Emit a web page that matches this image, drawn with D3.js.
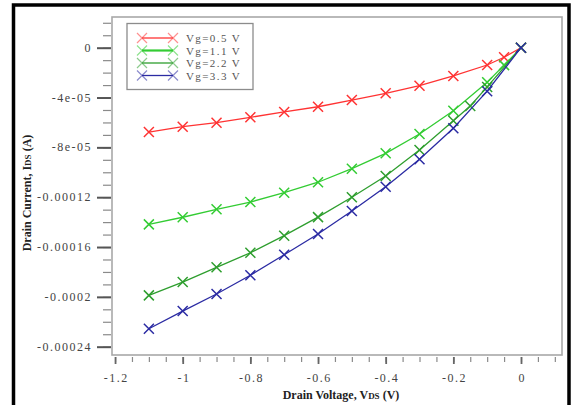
<!DOCTYPE html>
<html>
<head>
<meta charset="utf-8">
<script src="https://cdn.jsdelivr.net/npm/d3@7"></script>
<style>
  html, body { margin: 0; padding: 0; background: #fff; }
  svg { display: block; }
  .tick-label { font-family: "Liberation Serif", "DejaVu Serif", serif; font-size: 12px; fill: #444; letter-spacing: 1.5px; }
  .legend-label { font-family: "Liberation Serif", "DejaVu Serif", serif; font-size: 11px; fill: #555; letter-spacing: 1.4px; }
  .axis-title { font-family: "Liberation Serif", "DejaVu Serif", serif; font-size: 12px; font-weight: bold; fill: #222; }
</style>
</head>
<body>
<svg id="chart" width="576" height="405"></svg>
<script>
// Drain voltage sweep points (V) and drain currents (A) per gate voltage
const vds05 = [-1.1, -1, -0.9, -0.8, -0.7, -0.6, -0.5, -0.4, -0.3, -0.2, -0.1, -0.05, 0];
const ids05 = [-6.77e-5, -6.34e-5, -6.02e-5, -5.59e-5, -5.16e-5, -4.74e-5, -4.2e-5, -3.66e-5, -3.05e-5, -2.27e-5, -1.39e-5, -7.7e-6, 0];

const vds11 = [-1.1, -1, -0.9, -0.8, -0.7, -0.6, -0.5, -0.4, -0.3, -0.2, -0.1, -0.05, 0];
const ids11 = [-1.418e-4, -1.361e-4, -1.297e-4, -1.239e-4, -1.164e-4, -1.08e-4, -9.71e-5, -8.48e-5, -6.93e-5, -5.06e-5, -2.78e-5, -1.4e-5, 0];

const vds22 = [-1.1, -1, -0.9, -0.8, -0.7, -0.6, -0.5, -0.4, -0.3, -0.2, -0.15, -0.1, 0];
const ids22 = [-1.988e-4, -1.881e-4, -1.763e-4, -1.646e-4, -1.509e-4, -1.36e-4, -1.201e-4, -1.03e-4, -8.21e-5, -5.86e-5, -4.68e-5, -3.15e-5, 0];

const vds33 = [-1.1, -1, -0.9, -0.8, -0.7, -0.6, -0.5, -0.4, -0.3, -0.2, -0.1, 0];
const ids33 = [-2.256e-4, -2.114e-4, -1.977e-4, -1.827e-4, -1.662e-4, -1.496e-4, -1.311e-4, -1.116e-4, -8.96e-5, -6.47e-5, -3.49e-5, 0];

const seriesNames = ["Vg=0.5 V", "Vg=1.1 V", "Vg=2.2 V", "Vg=3.3 V"];
const seriesColors = ["#ff3333", "#33cc33", "#2e9e2e", "#2b2ba3"];
const legendWidths = [1.3, 2.2, 1.3, 1.3];

const xMajorTicks = [-1.2, -1, -0.8, -0.6, -0.4, -0.2, 0];
const xTickLabels = ["-1.2", "-1", "-0.8", "-0.6", "-0.4", "-0.2", "0"];
const yMajorTicks = [0, -4e-5, -8e-5, -1.2e-4, -1.6e-4, -2e-4, -2.4e-4];
const yTickLabels = ["0", "-4e-05", "-8e-05", "-0.00012", "-0.00016", "-0.0002", "-0.00024"];

const series = [
  { x: vds05, y: ids05 },
  { x: vds11, y: ids11 },
  { x: vds22, y: ids22 },
  { x: vds33, y: ids33 }
];

const svg = d3.select("#chart");

// Outer black picture border
svg.append("rect")
  .attr("x", 13.5).attr("y", 5).attr("width", 555.5).attr("height", 430)
  .attr("fill", "none").attr("stroke", "#000").attr("stroke-width", 3.5);

const plot = { left: 112, top: 17, right: 562, bottom: 355 };

const x = d3.scaleLinear().domain([-1.209, 0.1212]).range([plot.left, plot.right]);
const y = d3.scaleLinear().domain([-2.4667e-4, 2.464e-5]).range([plot.bottom, plot.top]);

// Minor ticks
const xMinor = d3.range(-1.2, 0.1001, 0.05).map(v => +v.toFixed(2));
const yMinor = d3.range(-24, 3, 1).map(v => v * 1e-5);

const xMinorAxis = d3.axisBottom(x).tickValues(xMinor).tickSize(5).tickFormat("");
const xMajorAxis = d3.axisBottom(x).tickValues(xMajorTicks).tickSize(7).tickFormat("");
const yMinorAxis = d3.axisLeft(y).tickValues(yMinor).tickSize(8).tickFormat("");
const yMajorAxis = d3.axisLeft(y).tickValues(yMajorTicks).tickSize(14).tickFormat("");

function styleAxis(g, color, width) {
  g.select(".domain").remove();
  g.selectAll(".tick line").attr("stroke", color).attr("stroke-width", width);
}

svg.append("g").attr("transform", `translate(0,${plot.bottom + 2})`).call(xMinorAxis).call(g => styleAxis(g, "#8a8a8a", 1.2));
svg.append("g").attr("transform", `translate(0,${plot.bottom + 2})`).call(xMajorAxis).call(g => styleAxis(g, "#666", 1.8));
svg.append("g").attr("transform", `translate(${plot.left - 1},0)`).call(yMinorAxis).call(g => styleAxis(g, "#8a8a8a", 1.2));
svg.append("g").attr("transform", `translate(${plot.left - 1},0)`).call(yMajorAxis).call(g => styleAxis(g, "#555", 2));

// Tick labels (letter-spacing adds a trailing gap, offset to keep alignment)
svg.append("g").selectAll("text").data(xMajorTicks).join("text")
  .attr("class", "tick-label")
  .attr("x", d => x(d) + 1.2)
  .attr("y", 382)
  .attr("text-anchor", "middle")
  .text((d, i) => xTickLabels[i]);

svg.append("g").selectAll("text").data(yMajorTicks).join("text")
  .attr("class", "tick-label")
  .attr("x", 92)
  .attr("y", d => y(d) + 4)
  .attr("text-anchor", "end")
  .text((d, i) => yTickLabels[i]);

// Plot frame
svg.append("rect")
  .attr("x", plot.left).attr("y", plot.top)
  .attr("width", plot.right - plot.left).attr("height", plot.bottom - plot.top)
  .attr("fill", "#fff").attr("stroke", "#a8a8a8").attr("stroke-width", 1.6);

// Axis titles
const xt = svg.append("text").attr("class", "axis-title")
  .attr("x", 341).attr("y", 399).attr("text-anchor", "middle");
xt.append("tspan").text("Drain Voltage, V");
xt.append("tspan").attr("font-size", "9px").text("DS");
xt.append("tspan").text(" (V)");

const yt = svg.append("text").attr("class", "axis-title")
  .attr("transform", "translate(31,193) rotate(-90)")
  .attr("text-anchor", "middle");
yt.append("tspan").text("Drain Current, I");
yt.append("tspan").attr("font-size", "9px").text("DS");
yt.append("tspan").text(" (A)");

// Cross-shaped markers
function crossPath(cx, cy, r) {
  return `M${cx - r},${cy - r}L${cx + r},${cy + r}M${cx - r},${cy + r}L${cx + r},${cy - r}`;
}

const line = d3.line().x(d => x(d[0])).y(d => y(d[1]));

const plotG = svg.append("g");
series.forEach((s, i) => {
  const pts = s.x.map((v, k) => [v, s.y[k]]);
  plotG.append("path")
    .attr("d", line(pts))
    .attr("fill", "none")
    .attr("stroke", seriesColors[i])
    .attr("stroke-width", 1.3);
  plotG.append("g").selectAll("path").data(pts).join("path")
    .attr("d", d => crossPath(x(d[0]), y(d[1]), 5))
    .attr("stroke", seriesColors[i])
    .attr("stroke-width", 1.5)
    .attr("fill", "none");
});

// Legend
const legend = svg.append("g");
legend.append("rect")
  .attr("x", 127).attr("y", 23.5).attr("width", 126).attr("height", 66)
  .attr("fill", "#fff").attr("stroke", "#8c8c8c").attr("stroke-width", 1.3);

const rowY = [38, 50.5, 63, 75.5];
seriesNames.forEach((name, i) => {
  const yy = rowY[i];
  legend.append("line")
    .attr("x1", 142).attr("x2", 173).attr("y1", yy).attr("y2", yy)
    .attr("stroke", seriesColors[i]).attr("stroke-width", legendWidths[i]);
  [142, 173].forEach(cx => {
    legend.append("path")
      .attr("d", crossPath(cx, yy, 5))
      .attr("stroke", seriesColors[i]).attr("stroke-width", 1.2)
      .attr("fill", "none").attr("opacity", 0.55);
  });
  legend.append("text")
    .attr("class", "legend-label")
    .attr("x", 186).attr("y", yy + 4)
    .text(name);
});
</script>
</body>
</html>
